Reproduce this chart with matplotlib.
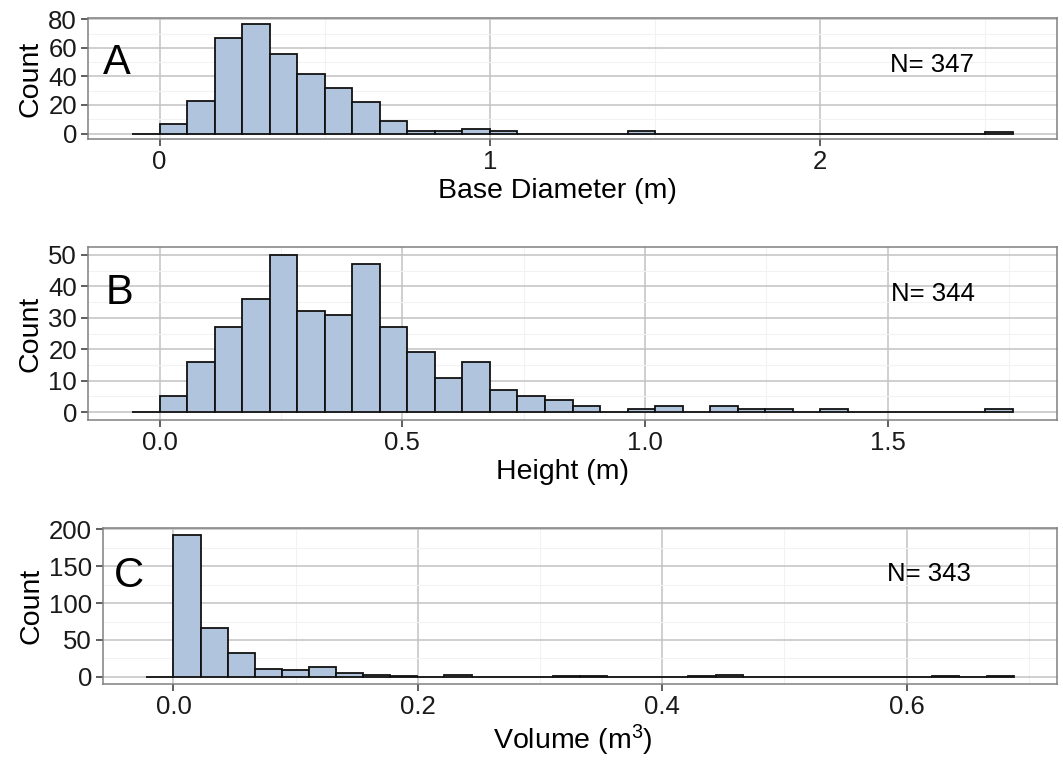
import numpy as np
from matplotlib import pyplot as plt
from matplotlib.ticker import FixedLocator

plt.rcParams['font.family'] = ['Liberation Sans', 'DejaVu Sans']
plt.rcParams['mathtext.fontset'] = 'custom'
plt.rcParams['mathtext.rm'] = 'Liberation Sans'
plt.rcParams['mathtext.it'] = 'Liberation Sans:italic'

# histogram counts (first bin is the empty one left of 0)
diam_width = 1 / 12
diam_counts = [0, 7, 23, 67, 77, 56, 42, 32, 22, 9, 2, 2, 3, 2, 0, 0, 0, 0,
               2, 0, 0, 0, 0, 0, 0, 0, 0, 0, 0, 0, 0, 1]

height_width = 1.758 / 31
height_counts = [0, 5, 16, 27, 36, 50, 32, 31, 47, 27, 19, 11, 16, 7, 5, 4,
                 2, 0, 1, 2, 0, 2, 1, 1, 0, 1, 0, 0, 0, 0, 0, 1]

vol_width = 0.6875 / 31
vol_counts = [0, 192, 66, 32, 11, 10, 14, 5, 3, 1, 0, 2, 0, 0, 0, 1, 1,
              0, 0, 0, 1, 2, 0, 0, 0, 0, 0, 0, 0, 1, 0, 1]

panels = [
    dict(letter='A', n='N= 347', xlabel='Base Diameter (m)',
         width=diam_width, counts=diam_counts,
         xmajor=[0, 1, 2], xlabels=['0', '1', '2'], xminor=[0.5, 1.5, 2.5],
         ymajor=[0, 20, 40, 60, 80], yminor=[10, 30, 50, 70],
         letter_xy=(-0.17, 49), n_xy=(2.21, 48),
         rect=[88, 18, 1057, 139], label_x=557),
    dict(letter='B', n='N= 344', xlabel='Height (m)',
         width=height_width, counts=height_counts,
         xmajor=[0, 0.5, 1.0, 1.5], xlabels=['0.0', '0.5', '1.0', '1.5'],
         xminor=[0.25, 0.75, 1.25, 1.75],
         ymajor=[0, 10, 20, 30, 40, 50], yminor=[5, 15, 25, 35, 45],
         letter_xy=(-0.112, 37.9), n_xy=(1.507, 37.6),
         rect=[88, 247, 1057, 420], label_x=563),
    dict(letter='C', n='N= 343', xlabel='Volume (m$^{\\mathregular{3}}$)',
         width=vol_width, counts=vol_counts,
         xmajor=[0, 0.2, 0.4, 0.6], xlabels=['0.0', '0.2', '0.4', '0.6'],
         xminor=[0.1, 0.3, 0.5, 0.7],
         ymajor=[0, 50, 100, 150, 200], yminor=[25, 75, 125, 175],
         letter_xy=(-0.049, 137), n_xy=(0.584, 139),
         rect=[103, 528, 1057, 684], label_x=573),
]

W, H = 1063, 763
fig = plt.figure(figsize=(W / 100, H / 100), dpi=100)

for p in panels:
    l, t, r, b = p['rect']
    ax = fig.add_axes([l / W, 1 - b / H, (r - l) / W, (b - t) / H])
    counts = np.array(p['counts'])
    w = p['width']
    lefts = (np.arange(len(counts)) - 1) * w
    ax.bar(lefts, counts, width=w, align='edge', color='#B0C4DE',
           edgecolor='#111111', linewidth=1.3, zorder=3)

    x0, x1 = lefts[0], lefts[-1] + w
    ex = (x1 - x0) * 0.05
    ax.set_xlim(x0 - ex, x1 + ex)
    ymax = counts.max()
    ax.set_ylim(-0.05 * ymax, 1.05 * ymax)

    ax.xaxis.set_major_locator(FixedLocator(p['xmajor']))
    ax.set_xticklabels(p['xlabels'])
    ax.xaxis.set_minor_locator(FixedLocator(p['xminor']))
    ax.yaxis.set_major_locator(FixedLocator(p['ymajor']))
    ax.yaxis.set_minor_locator(FixedLocator(p['yminor']))

    ax.grid(which='major', color='#C2C2C2', linewidth=1.1, zorder=0)
    ax.grid(which='minor', color='#F2F2F2', linewidth=0.8, zorder=0)
    ax.set_axisbelow(True)
    for s in ax.spines.values():
        s.set_color('#808080')
        s.set_linewidth(1.1)

    ax.tick_params(which='major', length=5, width=1.1, color='#333333',
                   labelsize=18.5, labelcolor='#1a1a1a', pad=3)
    ax.tick_params(which='minor', length=0)

    ax.set_ylabel('Count', fontsize=20.5, labelpad=3)
    ax.set_xlabel(p['xlabel'], fontsize=20.5, labelpad=3)
    ax.xaxis.label.set_x((p['label_x'] - l) / (r - l))

    ax.text(*p['letter_xy'], p['letter'], fontsize=30, ha='left', va='center')
    ax.text(*p['n_xy'], p['n'], fontsize=18.5, ha='left', va='center')

fig.savefig('out.png', dpi=100)
